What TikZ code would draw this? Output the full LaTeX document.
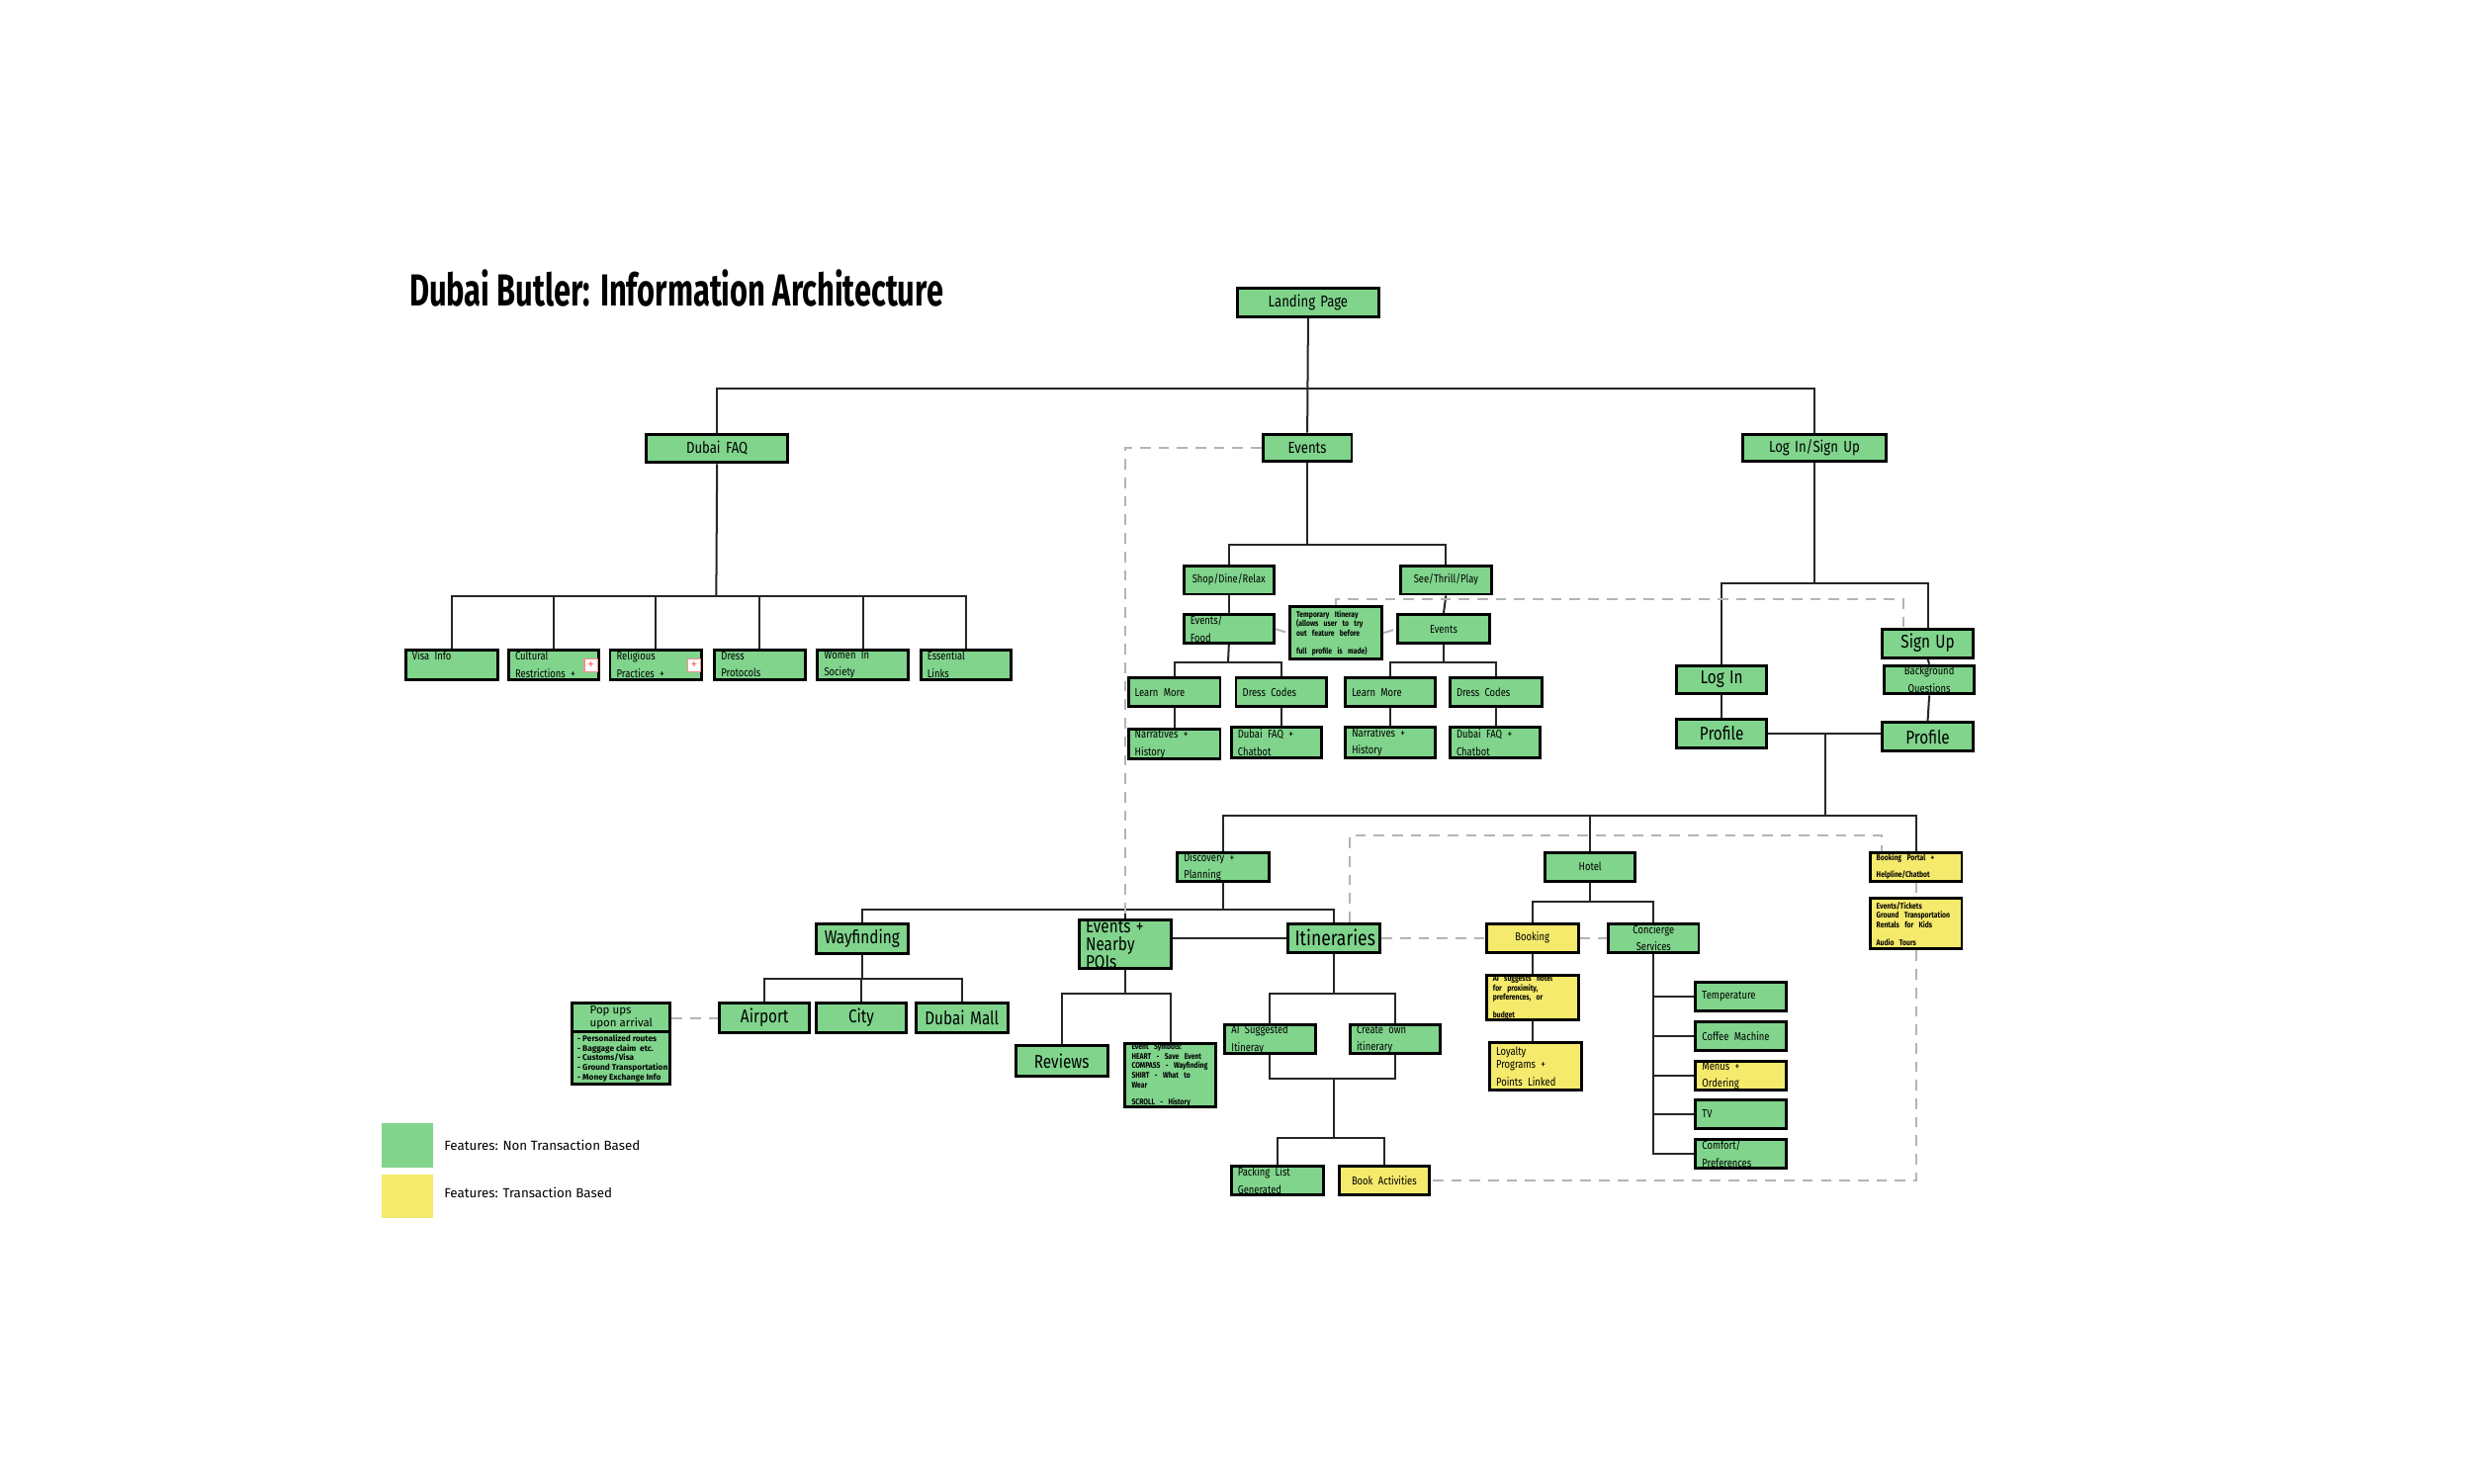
\documentclass[tikz,border=0pt]{standalone}
\usepackage{fontspec}
\setmainfont{Fira Sans}
\newfontfamily\titlefont[FakeStretch=0.68]{Fira Sans}
\newfontfamily\condfont[FakeStretch=0.82]{Fira Sans}
\definecolor{gr}{HTML}{80D48C}
\definecolor{yl}{HTML}{F5EA6C}
\definecolor{dg}{HTML}{B4B4B4}
\newcommand\fA{\condfont\fontsize{6}{6.6}\selectfont}
\newcommand\fB{\fontsize{7}{7.8}\selectfont}
\newcommand\fS{\fontsize{4.3}{4.9}\selectfont}
\newcommand\fT{\fontsize{3.1}{3.6}\selectfont}
\newcommand\bx[8]{%
  \pgfmathsetmacro\cx{(#2+#4)/2}\pgfmathsetmacro\cy{(#3+#5)/2}%
  \pgfmathsetmacro\ww{(#4-#2)*0.6}\pgfmathsetmacro\hh{(#5-#3)*0.6}%
  \pgfmathsetmacro\tw{(#4-#2)*0.6-5}%
  \node[box,fill=#6,minimum width=\ww pt,minimum height=\hh pt,text width=\tw pt,align=#7] (#1) at (\cx,\cy) {#8};}
\begin{document}
\begin{tikzpicture}[x=0.6pt,y=-0.6pt,
  box/.style={draw=black,line width=1.1pt,inner xsep=2.5pt,inner ysep=0pt,font=\fA},
  conn/.style={draw=black!85,line width=0.75pt},
  dsh/.style={draw=dg,line width=0.75pt,dash pattern=on 4pt off 3pt}]
\useasboundingbox (0,0) rectangle (1560,936);
\node[anchor=west,inner sep=0,font=\titlefont\bfseries\fontsize{17}{20}\selectfont] (title) at (258,182) {Dubai Butler: Information Architecture};
% top
\bx{lp}{781}{182}{870}{200}{gr}{center}{\fA Landing Page}
\bx{ev}{797}{274}{853}{291}{gr}{center}{\fA Events}
\bx{faq}{408}{274}{497}{292}{gr}{center}{\fA Dubai FAQ}
\bx{lis}{1100}{274}{1190}{291}{gr}{center}{\fA Log In/Sign Up}
% FAQ children
\bx{visa}{256}{410}{314}{429}{gr}{left}{\fS Visa Info\\\phantom{X}}
\bx{cult}{321}{410}{378}{429}{gr}{left}{\fS Cultural\\Restrictions +}
\bx{rel}{385}{410}{443}{429}{gr}{left}{\fS Religious\\Practices +}
\bx{dress}{451}{410}{508}{429}{gr}{left}{\fS Dress\\Protocols}
\bx{women}{516}{410}{573}{429}{gr}{left}{\fS Women In\\Society}
\bx{ess}{581}{410}{638}{429}{gr}{left}{\fS Essential\\Links}
\node[draw=red!45,fill=white,line width=0.5pt,minimum size=5pt,inner sep=0,text=red!60,font=\fontsize{5}{5}\selectfont] (ic1) at (373,420) {+};
\node[draw=red!45,fill=white,line width=0.5pt,minimum size=5pt,inner sep=0,text=red!60,font=\fontsize{5}{5}\selectfont] (ic2) at (438,420) {+};
% Events subtree
\bx{shop}{747}{357}{804}{375}{gr}{center}{\fS\condfont Shop/Dine/Relax}
\bx{see}{884}{357}{941}{375}{gr}{center}{\fS\condfont See/Thrill/Play}
\bx{evf}{747}{388}{804}{406}{gr}{left}{\fS Events/\\Food}
\bx{temp}{814}{383}{872}{416}{gr}{left}{\fT\bfseries Temporary Itineray\\(allows user to try\\out feature before\\full profile is made)}
\bx{evs}{882}{388}{940}{406}{gr}{center}{\fS Events}
\bx{lma}{712}{428}{770}{446}{gr}{left}{\fS Learn More}
\bx{dca}{780}{428}{837}{446}{gr}{left}{\fS Dress Codes}
\bx{lmb}{849}{428}{906}{446}{gr}{left}{\fS Learn More}
\bx{dcb}{915}{428}{973}{446}{gr}{left}{\fS Dress Codes}
\bx{na}{712}{460}{770}{479}{gr}{left}{\fS Narratives +\\History}
\bx{fa}{777}{459}{834}{478}{gr}{left}{\fS Dubai FAQ +\\Chatbot}
\bx{nb}{849}{459}{906}{478}{gr}{left}{\fS Narratives +\\History}
\bx{fb}{915}{459}{972}{478}{gr}{left}{\fS Dubai FAQ +\\Chatbot}
% Login subtree
\bx{signup}{1188}{397}{1245}{415}{gr}{center}{\fB Sign Up}
\bx{bq}{1189}{420}{1246}{438}{gr}{center}{\fS Background\\Questions}
\bx{login}{1058}{420}{1115}{438}{gr}{center}{\fB Log In}
\bx{profL}{1058}{454}{1115}{472}{gr}{center}{\fB Profile}
\bx{profR}{1188}{456}{1245}{474}{gr}{center}{\fB Profile}
% lower
\bx{disc}{743}{538}{801}{556}{gr}{left}{\fS Discovery +\\Planning}
\bx{hotel}{975}{538}{1032}{556}{gr}{center}{\fS Hotel}
\bx{bp}{1180}{538}{1238}{556}{yl}{left}{\fT\bfseries Booking Portal +\\Helpline/Chatbot}
\bx{et}{1180}{567}{1238}{599}{yl}{left}{\fT\bfseries Events/Tickets\\Ground Transportation\\Rentals for Kids\\Audio Tours}
\bx{way}{515}{583}{573}{602}{gr}{center}{\fB Wayfinding}
\bx{enp}{681}{583}{739}{609}{gr}{left}{\fB Events +\\Nearby POIs}
\bx{itin}{813}{583}{871}{601}{gr}{center}{\fontsize{8}{9}\selectfont Itineraries}
\bx{booking}{938}{583}{996}{601}{yl}{center}{\fS Booking}
\bx{conc}{1015}{583}{1072}{601}{gr}{center}{\fS Concierge\\Services}
\bx{aisug}{938}{617}{996}{642}{yl}{left}{\fT\bfseries AI suggests hotel\\for proximity,\\preferences, or\\budget}
\bx{loyal}{940}{658}{998}{688}{yl}{left}{\fS Loyalty\\Programs +\\Points Linked}
\bx{tempr}{1070}{620}{1127}{638}{gr}{left}{\fS Temperature}
\bx{coffee}{1070}{645}{1127}{663}{gr}{left}{\fS Coffee Machine}
\bx{menus}{1070}{670}{1127}{688}{yl}{left}{\fS Menus +\\Ordering}
\bx{tv}{1070}{694}{1127}{712}{gr}{left}{\fS TV}
\bx{comfort}{1070}{719}{1127}{737}{gr}{left}{\fS Comfort/\\Preferences}
\bx{popup}{361}{633}{423}{684}{gr}{left}{}
\draw[line width=1.1pt] (361,651) -- (423,651);
\node[font=\fS,align=left,anchor=west,inner sep=0] (puT) at (372,642) {Pop ups\\upon arrival};
\node[font=\fT\bfseries,align=left,anchor=west,inner sep=0] (puL) at (364,668) {- Personalized routes\\- Baggage claim\ \ etc.\\- Customs/Visa\\- Ground Transportation\\- Money Exchange Info};
\bx{airport}{454}{633}{511}{652}{gr}{center}{\fB Airport}
\bx{city}{515}{633}{572}{652}{gr}{center}{\fB City}
\bx{mall}{578}{633}{636}{652}{gr}{center}{\fB Dubai Mall}
\bx{reviews}{641}{660}{699}{679}{gr}{center}{\fB Reviews}
\bx{sym}{710}{660}{767}{697}{gr}{left}{\fT\bfseries Event Symbols:\\HEART - Save Event\\COMPASS - Wayfinding\\SHIRT - What to Wear\\SCROLL - History}
\bx{ais}{773}{647}{830}{665}{gr}{left}{\fS AI Suggested\\Itineray}
\bx{own}{852}{647}{909}{665}{gr}{left}{\fS Create own\\itinerary}
\bx{pack}{777}{736}{835}{754}{gr}{left}{\fS Packing List\\Generated}
\bx{book}{845}{736}{902}{754}{yl}{center}{\fS Book Activities}
% legend
\node[fill=gr,minimum width=19.2pt,minimum height=16.8pt,inner sep=0] (lg1) at (257,723) {};
\node[fill=yl,minimum width=19.2pt,minimum height=16.8pt,inner sep=0] (lg2) at (257,755) {};
\node[anchor=west,inner sep=0,font=\fS\fontsize{5}{6}\selectfont] (lt1) at (280,723) {Features: Non Transaction Based};
\node[anchor=west,inner sep=0,font=\fS\fontsize{5}{6}\selectfont] (lt2) at (280,753) {Features: Transaction Based};
% coordinates
\coordinate (b1) at (825,245);
\coordinate (b2) at (452,376);
\coordinate (b3) at (825,344);
\coordinate (b3a) at (775,418);
\coordinate (b3b) at (911,418);
\coordinate (b4) at (1145,368);
\coordinate (pj) at (1152,463);
\coordinate (b5) at (1152,515);
\coordinate (b6) at (772,574);
\coordinate (b7) at (544,618);
\coordinate (b8) at (710,627);
\coordinate (b9) at (842,627);
\coordinate (b10) at (842,681);
\coordinate (b11) at (842,718);
\coordinate (b12) at (1003.5,569);
\coordinate (d1) at (1201,378);
\coordinate (d2) at (1000,527);
% connectors
\draw[conn] (lp.south) -- (ev.north);
\draw[conn] (faq.north) |- (b1) -| (lis.north);
\draw[conn] (faq.south) -- (b2);
\draw[conn] (visa.north) |- (b2) -| (ess.north);
\foreach \n in {cult,rel,dress,women} \draw[conn] (\n.north) -- (\n.north |- b2);
\draw[conn] (ev.south) -- (b3);
\draw[conn] (shop.north) |- (b3) -| (see.north);
\draw[conn] (shop.south) -- (evf.north);
\draw[conn] (see.south) -- (evs.north);
\draw[conn] (evf.south) -- (b3a);
\draw[conn] (lma.north) |- (b3a) -| (dca.north);
\draw[conn] (evs.south) -- (b3b);
\draw[conn] (lmb.north) |- (b3b) -| (dcb.north);
\draw[conn] (lma.south) -- (na.north);
\draw[conn] (dca.south) -- (dca.south |- fa.north);
\draw[conn] (lmb.south) -- (nb.north);
\draw[conn] (dcb.south) -- (dcb.south |- fb.north);
\draw[conn] (lis.south) -- (b4);
\draw[conn] (login.north) |- (b4) -| (signup.north);
\draw[conn] (signup.south) -- (bq.north);
\draw[conn] (bq.south) -- (profR.north);
\draw[conn] (login.south) -- (profL.north);
\draw[conn] (profL.east) -- (profL.east -| profR.west);
\draw[conn] (pj) -- (b5);
\draw[conn] (disc.north) |- (b5) -| (bp.north);
\draw[conn] (hotel.north) -- (hotel.north |- b5);
\draw[conn] (disc.south) -- (b6);
\draw[conn] (way.north) |- (b6) -| (itin.north);
\draw[conn] (enp.north) -- (enp.north |- b6);
\draw[conn] (itin.west) -- (itin.west -| enp.east);
\draw[conn] (way.south) -- (b7);
\draw[conn] (airport.north) |- (b7) -| (mall.north);
\draw[conn] (city.north) -- (city.north |- b7);
\draw[conn] (enp.south) -- (b8);
\draw[conn] (reviews.north) |- (b8) -| (sym.north);
\draw[conn] (itin.south) -- (b9);
\draw[conn] (ais.north) |- (b9) -| (own.north);
\draw[conn] (ais.south) |- (b10) -| (own.south);
\draw[conn] (b10) -- (b11);
\draw[conn] (pack.north) |- (b11) -| (book.north);
\draw[conn] (hotel.south) -- (b12);
\draw[conn] (booking.north) |- (b12) -| (conc.north);
\draw[conn] (booking.south) -- (aisug.north);
\draw[conn] (aisug.south) -- (aisug.south |- loyal.north);
\draw[conn] (conc.south) |- (comfort.west);
\foreach \n in {tempr,coffee,menus,tv} \draw[conn] (\n.west) -- (\n.west -| conc.south);
% dashed
\draw[dsh] (evf.east) -- (temp.west);
\draw[dsh] (temp.east) -- (evs.west);
\draw[dsh] (temp.north) |- (d1) -- (d1 |- signup.north);
\draw[dsh] (ev.west) -| (enp.north);
\draw[dsh] (itin.east) -- (booking.west);
\draw[dsh] (booking.east) -- (conc.west);
\draw[dsh] ([xshift=6pt]itin.north) |- (d2) -| ([xshift=-13pt]bp.north);
\draw[dsh] (bp.south) -- (et.north);
\draw[dsh] (et.south) |- (book.east);
\draw[dsh] (popup.east |- airport.west) -- (airport.west);
\end{tikzpicture}
\end{document}
